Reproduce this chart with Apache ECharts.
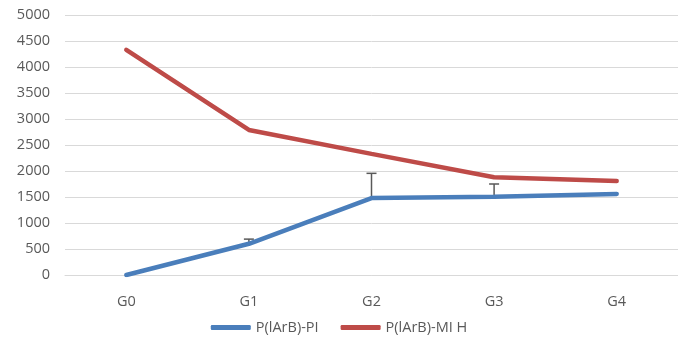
<!DOCTYPE html>
<html>
<head>
<meta charset="utf-8">
<script src="https://cdn.jsdelivr.net/npm/echarts@6/dist/echarts.min.js"></script>
<style>
  html, body { margin: 0; padding: 0; background: #fff; }
  #chart { width: 678px; height: 352px; }
</style>
</head>
<body>
<div id="chart"></div>
<script>
const categories = ['G0', 'G1', 'G2', 'G3', 'G4']
const yTicks = [0, 500, 1000, 1500, 2000, 2500, 3000, 3500, 4000, 4500, 5000]
const piValues = [0, 600, 1480, 1505, 1560]
const mihValues = [4330, 2790, 2330, 1880, 1810]
// upper end of the error bars on the PI series (null = no bar)
const piErrorTop = [null, 690, 1955, 1750, null]

const chart = echarts.init(document.getElementById('chart'))

const errorData = categories.map((c, i) => [i, piValues[i], piErrorTop[i]])
  .filter(d => d[2] != null)

chart.setOption({
  animation: false,
  textStyle: { fontFamily: 'Open Sans', color: '#595959' },
  grid: { left: 65, right: -4, top: 15, bottom: 77 },
  legend: {
    bottom: 12,
    left: 'center',
    itemWidth: 40,
    itemHeight: 5,
    itemGap: 22,
    icon: 'roundRect',
    textStyle: { fontSize: 14.5, color: '#595959', fontFamily: 'Open Sans' },
    data: ['P(lArB)-PI', 'P(lArB)-MI H']
  },
  xAxis: {
    type: 'category',
    data: categories,
    boundaryGap: true,
    axisLine: { lineStyle: { color: '#d9d9d9', width: 1 } },
    axisTick: { show: false },
    axisLabel: { color: '#595959', fontSize: 14.5, margin: 19 }
  },
  yAxis: {
    type: 'value',
    min: yTicks[0],
    max: yTicks[yTicks.length - 1],
    interval: 500,
    axisLine: { show: false },
    axisTick: { show: false },
    axisLabel: { color: '#595959', fontSize: 14.5, margin: 15, formatter: v => String(v) },
    splitLine: { lineStyle: { color: '#d9d9d9', width: 1 } }
  },
  series: [
    {
      name: 'P(lArB)-PI',
      type: 'line',
      data: piValues,
      symbol: 'none',
      itemStyle: { color: '#4a7ebb' },
      lineStyle: { color: '#4a7ebb', width: 4.5, cap: 'round' },
      z: 3
    },
    {
      name: 'P(lArB)-MI H',
      type: 'line',
      data: mihValues,
      symbol: 'none',
      itemStyle: { color: '#be4b48' },
      lineStyle: { color: '#be4b48', width: 4.5, cap: 'round' },
      z: 3
    },
    {
      type: 'custom',
      name: 'err',
      data: errorData,
      z: 2,
      renderItem: function (params, api) {
        const base = api.coord([api.value(0), api.value(1)])
        const top = api.coord([api.value(0), api.value(2)])
        const w = 5
        const style = { stroke: '#595959', lineWidth: 1.5, fill: null }
        return {
          type: 'group',
          children: [
            { type: 'line', shape: { x1: base[0], y1: base[1], x2: top[0], y2: top[1] }, style: style },
            { type: 'line', shape: { x1: top[0] - w, y1: top[1], x2: top[0] + w, y2: top[1] }, style: style }
          ]
        }
      }
    }
  ]
})
</script>
</body>
</html>
